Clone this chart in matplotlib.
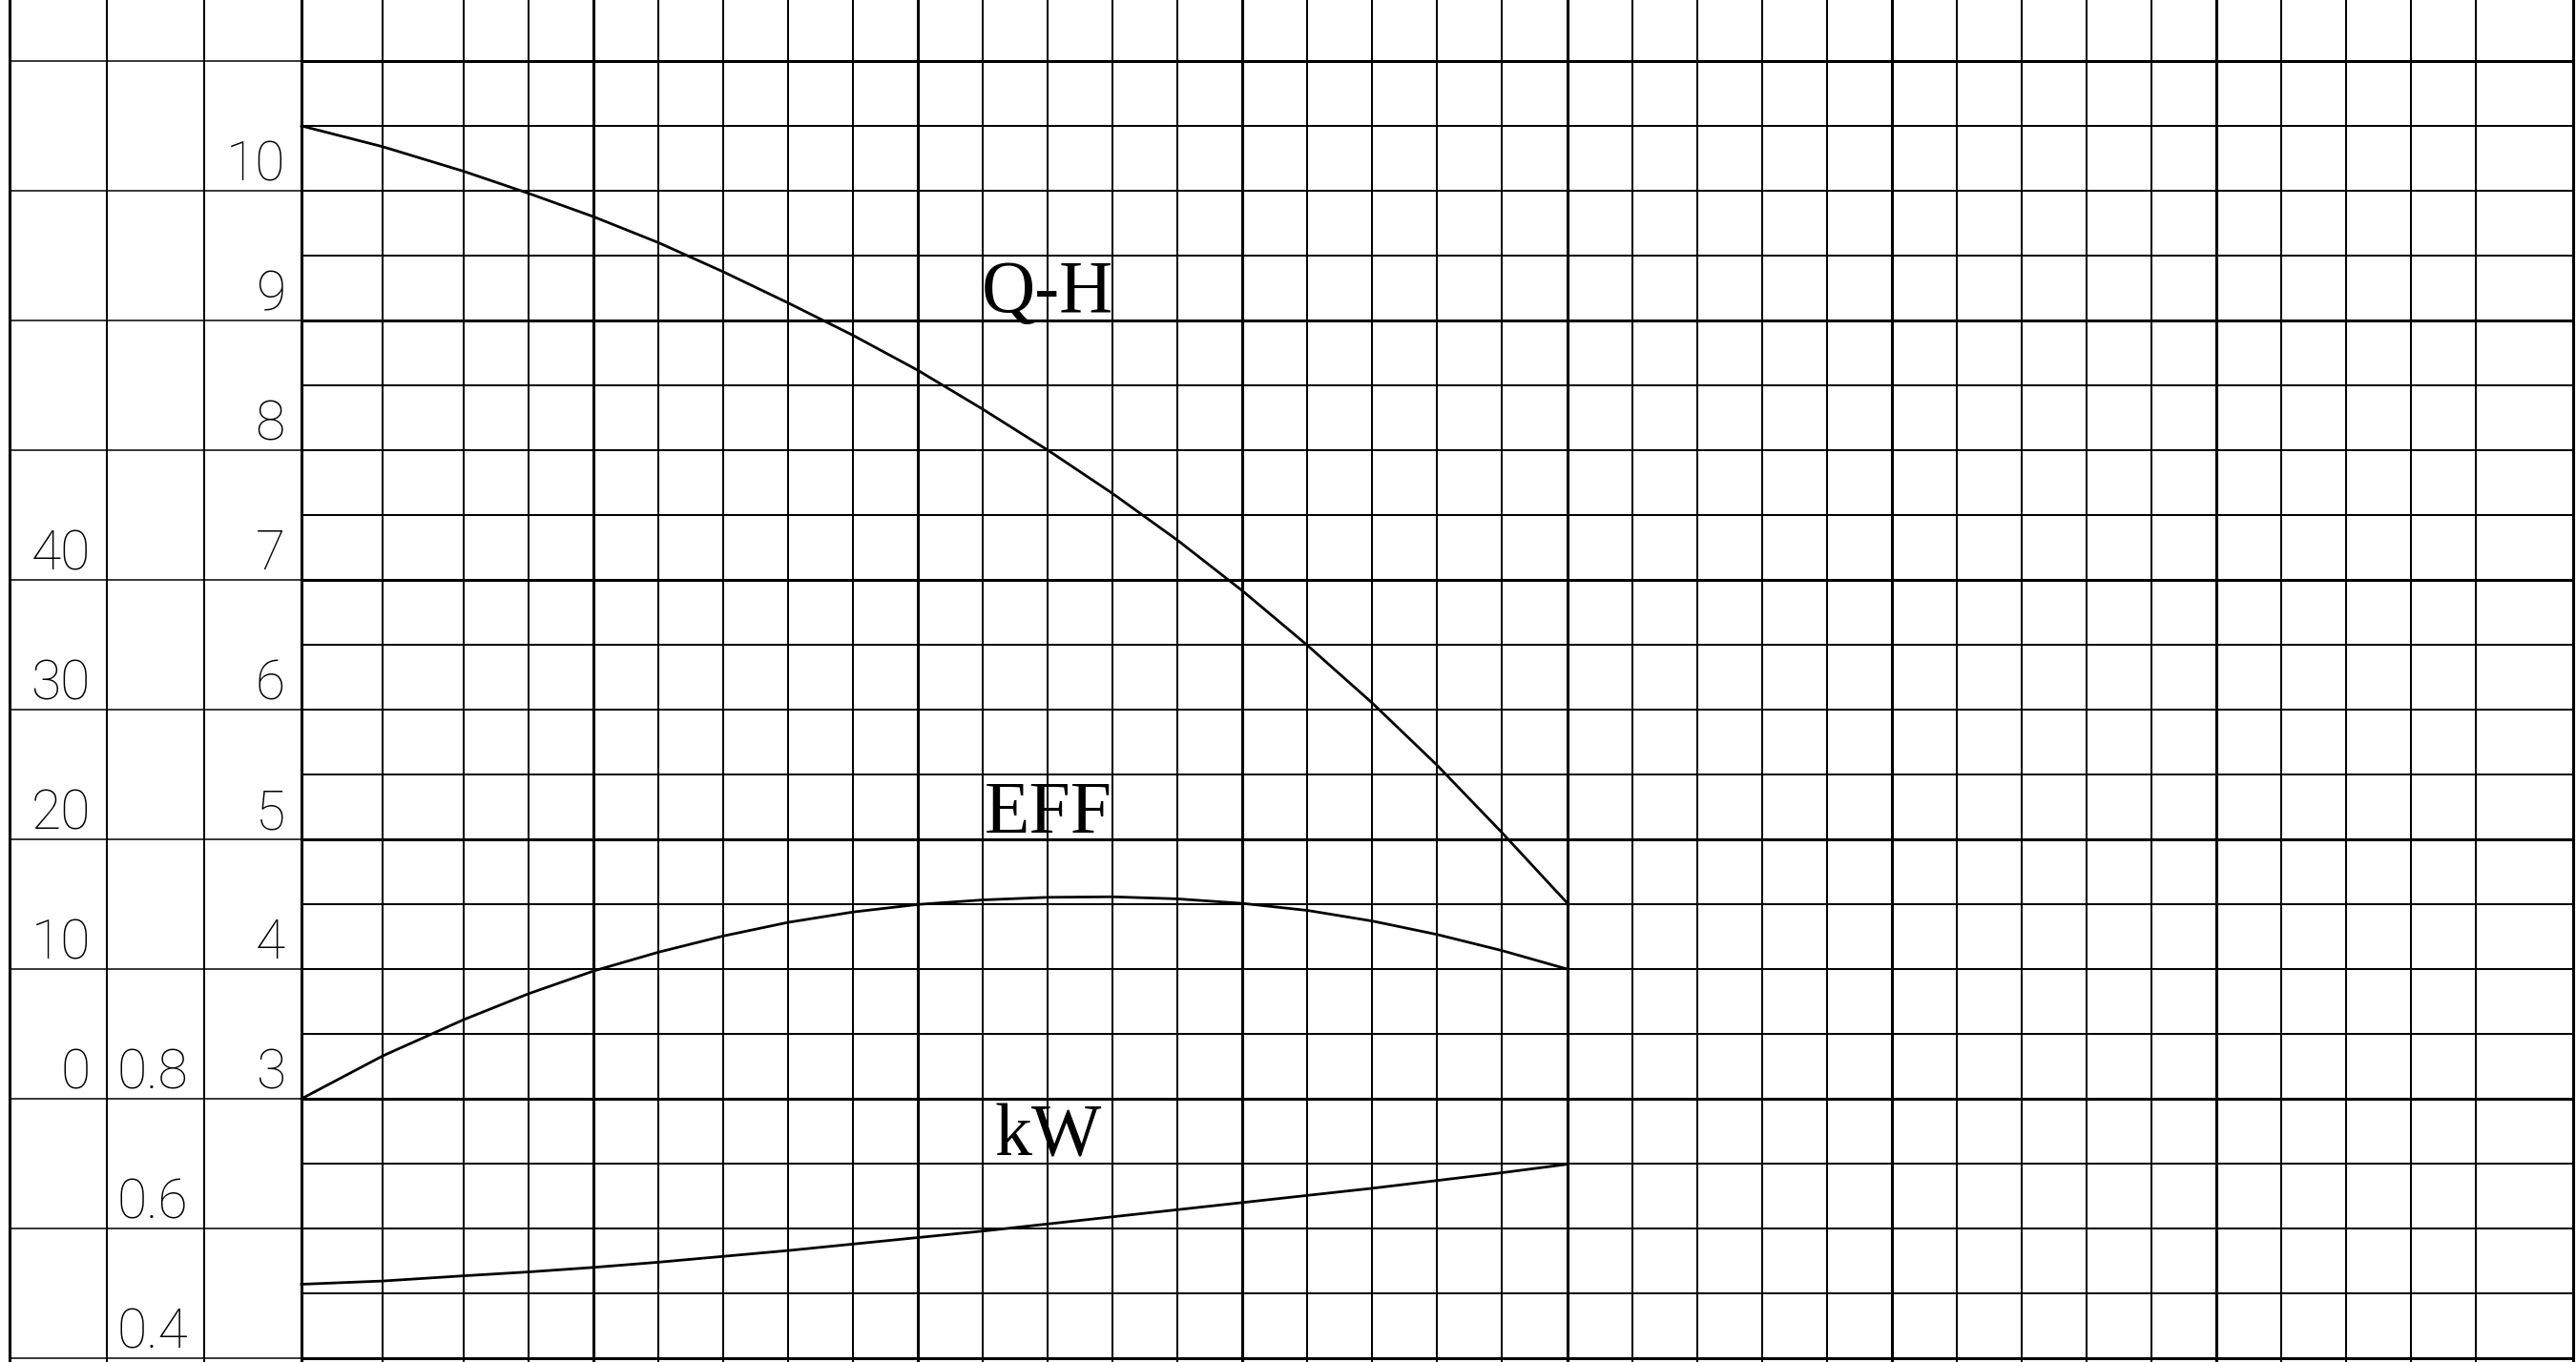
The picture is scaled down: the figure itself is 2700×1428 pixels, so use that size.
import numpy as np
import matplotlib
matplotlib.use("Agg")
import matplotlib.pyplot as plt

# ---------------- data ----------------
Q = [0, 0.25, 0.5, 0.7, 0.9, 1.1, 1.3, 1.5, 1.7, 1.9, 2.1, 2.3, 2.5, 2.7, 2.9,
     3.1, 3.3, 3.5, 3.7, 3.9]
H = [10.50, 10.34, 10.15, 9.98, 9.80, 9.60, 9.375, 9.135, 8.885, 8.615, 8.315,
     8.00, 7.665, 7.305, 6.915, 6.495, 6.05, 5.57, 5.05, 4.51]
EFF = [0, 3.3, 6.1, 8.1, 9.85, 11.3, 12.55, 13.6, 14.4, 14.98, 15.33, 15.53,
       15.57, 15.41, 15.06, 14.52, 13.70, 12.66, 11.42, 10.0]
KW = [0.514, 0.519, 0.527, 0.533, 0.540, 0.548, 0.557, 0.566, 0.576, 0.586,
      0.596, 0.607, 0.618, 0.629, 0.640, 0.651, 0.662, 0.674, 0.686, 0.699]

h_ticks = [3, 4, 5, 6, 7, 8, 9, 10]
eff_ticks = [0, 10, 20, 30, 40]
kw_ticks = [0.4, 0.6, 0.8]
kw_tick_labels = ["0.4", "0.6", "0.8"]
curve_names = ["Q-H", "EFF", "kW"]

# ---------------- layout ----------------
W, HT, DPI = 2700, 1428, 100
fig = plt.figure(figsize=(W / DPI, HT / DPI), dpi=DPI, facecolor="white")
ax = fig.add_axes([0, 0, 1, 1])
XLIM = (-0.929, 7.009)
YLIM = (0.9706, 11.4706)          # head axis (m)
ax.set_xlim(*XLIM)
ax.set_ylim(*YLIM)
ax.axis("off")

ax_eff = ax.twinx()
ax_eff.set_ylim((YLIM[0] - 3) * 10, (YLIM[1] - 3) * 10)
ax_eff.axis("off")
ax_kw = ax.twinx()
ax_kw.set_ylim(0.8 + (YLIM[0] - 3) * 0.2, 0.8 + (YLIM[1] - 3) * 0.2)
ax_kw.axis("off")
for a in (ax, ax_eff, ax_kw):
    a.set_xlim(*XLIM)

# grid geometry
q_left, q_right = 0.0, 7.0
label_cols = [-0.9, -0.6, -0.3]
q_grid = [0.0, 0.25, 0.5] + [round(v, 2) for v in np.arange(0.7, 6.71, 0.2)] + [7.0]
q_major = [0.0, 0.9, 1.9, 2.9, 3.9, 4.9, 5.9, 7.0]
h_grid = [round(v, 2) for v in np.arange(1.0, 11.01, 0.5)]
h_major = [1, 3, 5, 7, 9, 11]

LW_N, LW_T, LW_L = 1.45, 2.2, 1.1
# vertical lines (chart)
for q in q_grid:
    lw = LW_T if any(abs(q - m) < 1e-6 for m in q_major) else LW_N
    ax.axvline(q, color="black", lw=lw, zorder=1)
for i, q in enumerate(label_cols):
    ax.axvline(q, color="black", lw=LW_T if i == 0 else LW_N, zorder=1)
# horizontal lines (chart)
for h in h_grid:
    lw = LW_T if any(abs(h - m) < 1e-6 for m in h_major) else LW_N
    ax.hlines(h, q_left, q_right, color="black", lw=lw, zorder=1)
# horizontal lines in label columns (integer H only)
for h in range(1, 12):
    ax.hlines(h, label_cols[0], q_left, color="black", lw=LW_L, zorder=1)

# ---------------- curves ----------------
ax.plot(Q, H, color="black", lw=2.0, zorder=3, solid_joinstyle="round")
ax_eff.plot(Q, EFF, color="black", lw=2.0, zorder=3, solid_joinstyle="round")
ax_kw.plot(Q, KW, color="black", lw=2.0, zorder=3, solid_joinstyle="round")

# ---------------- tick labels ----------------
num_font = dict(family=["Roboto", "DejaVu Sans"], fontweight="light",
                fontsize=41, color="black")
dy = 0.08
for h in h_ticks:
    ax.text(-0.05, h + dy, f"{h}", ha="right", va="baseline", **num_font)
for e in eff_ticks:
    ax_eff.text(-0.65, e + dy * 10, f"{e}", ha="right", va="baseline", **num_font)
for k, lab in zip(kw_ticks, kw_tick_labels):
    ax_kw.text(-0.35, k + dy * 0.2, lab, ha="right", va="baseline", **num_font)

# ---------------- curve names ----------------
name_font = dict(family=["Liberation Serif", "DejaVu Serif"], fontsize=56,
                 color="black")
ax.text(2.3, 9.07, curve_names[0], ha="center", va="baseline", **name_font)
ax_eff.text(2.3, (5.05 - 3) * 10, curve_names[1], ha="center", va="baseline", **name_font)
ax_kw.text(2.3, 0.8 + (2.566 - 3) * 0.2, curve_names[2], ha="center", va="baseline", **name_font)

fig.savefig("out.png", dpi=DPI, facecolor="white")
